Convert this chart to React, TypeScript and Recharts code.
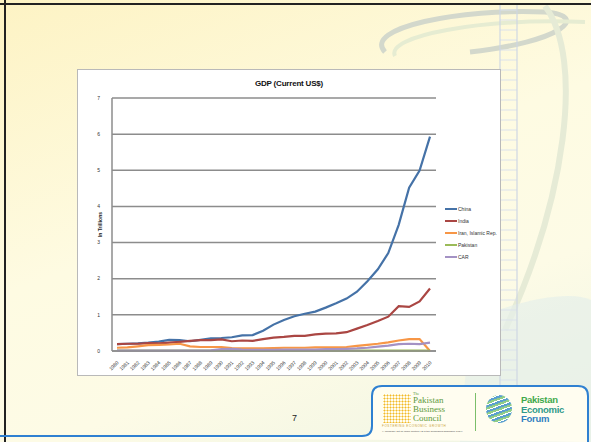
import React from 'react';
import { LineChart, Line, XAxis, YAxis, CartesianGrid } from 'recharts';

const years = [
  '1980', '1981', '1982', '1983', '1984', '1985', '1986', '1987', '1988', '1989',
  '1990', '1991', '1992', '1993', '1994', '1995', '1996', '1997', '1998', '1999',
  '2000', '2001', '2002', '2003', '2004', '2005', '2006', '2007', '2008', '2009', '2010',
];

// GDP in trillions of current US$
const china = [
  0.19, 0.2, 0.21, 0.23, 0.26, 0.31, 0.3, 0.27, 0.31, 0.35,
  0.36, 0.38, 0.43, 0.44, 0.56, 0.73, 0.86, 0.96, 1.03, 1.09,
  1.2, 1.32, 1.45, 1.64, 1.93, 2.26, 2.71, 3.49, 4.52, 4.99, 5.93,
];
const india = [
  0.19, 0.2, 0.2, 0.22, 0.21, 0.23, 0.25, 0.28, 0.3, 0.3,
  0.32, 0.27, 0.29, 0.28, 0.33, 0.37, 0.39, 0.42, 0.42, 0.46,
  0.48, 0.49, 0.52, 0.62, 0.72, 0.83, 0.95, 1.24, 1.22, 1.37, 1.73,
];
const iran = [
  0.09, 0.1, 0.13, 0.16, 0.17, 0.18, 0.2, 0.13, 0.11, 0.11,
  0.11, 0.08, 0.07, 0.07, 0.07, 0.08, 0.09, 0.09, 0.09, 0.1,
  0.1, 0.1, 0.11, 0.14, 0.17, 0.2, 0.24, 0.29, 0.33, 0.33, 0,
];
const pakistan = [
  0.01, 0.01, 0.01, 0.01, 0.01, 0.01, 0.01, 0.01, 0.01, 0.01,
  0.01, 0.01, 0.01, 0.01, 0.01, 0.01, 0.01, 0.01, 0.01, 0.01,
  0.01, 0.01, 0.01, 0.01, 0.01, 0.01, 0.01, 0.01, 0.01, 0.01, 0.01,
];
const car = [
  0.01, 0.01, 0.01, 0.01, 0.01, 0.01, 0.01, 0.01, 0.01, 0.02,
  0.05, 0.06, 0.04, 0.03, 0.03, 0.03, 0.04, 0.04, 0.04, 0.04,
  0.05, 0.05, 0.06, 0.07, 0.09, 0.12, 0.15, 0.19, 0.2, 0.19, 0.23,
];
const yTicks = [0, 1, 2, 3, 4, 5, 6, 7];

const series = [
  { key: 'china', name: 'China', color: '#4572a7' },
  { key: 'india', name: 'India', color: '#aa4643' },
  { key: 'iran', name: 'Iran, Islamic Rep.', color: '#f79646' },
  { key: 'pakistan', name: 'Pakistan', color: '#9bbb59' },
  { key: 'car', name: 'CAR', color: '#a492c4' },
];

const data = years.map((year, i) => ({
  year,
  china: china[i],
  india: india[i],
  iran: iran[i],
  pakistan: pakistan[i],
  car: car[i],
}));

const font = '"Liberation Sans", Arial, sans-serif';

const YearTick = (props: any) => {
  const { x, y, payload } = props;
  return (
    <text
      x={x + 2}
      y={y + 4}
      fontSize={5}
      fill="#333"
      fontFamily={font}
      textAnchor="end"
      transform={`rotate(-45 ${x + 2} ${y + 4})`}
    >
      {payload.value}
    </text>
  );
};

const ladder = [0, 1, 2, 3, 4, 5, 6, 7, 8, 9, 10, 11, 12, 13, 14, 15, 16, 17, 18, 19, 20, 21, 22, 23, 24, 25, 26, 27, 28, 29, 30, 31, 32, 33, 34, 35, 36, 37];

export default function App() {
  return (
    <div
      style={{
        position: 'absolute',
        left: 0,
        top: 0,
        width: 591,
        height: 442,
        overflow: 'hidden',
        background: 'linear-gradient(160deg, #fdf3c4 0%, #fefbe2 45%, #fdfbe6 70%, #eef4e4 100%)',
        fontFamily: font,
      }}
    >
      <svg width={591} height={442} style={{ position: 'absolute', left: 0, top: 0 }}>
        <path d="M385 52 C362 28 460 8 545 12 C592 16 560 42 470 52" fill="none" stroke="#d3d8cc" strokeWidth={5} />
        <path d="M395 56 C385 36 480 18 585 22" fill="none" stroke="#e6ecd2" strokeWidth={4} />
        <path d="M545 6 C585 60 565 200 505 330" fill="none" stroke="#e6ebd6" strokeWidth={6} />
        <path d="M470 320 C520 300 570 290 591 300 L591 442 L460 442 Z" fill="#e6f0ea" opacity={0.7} />
        {ladder.map((i) => (
          <line key={i} x1={500} x2={517} y1={10 + i * 10} y2={10 + i * 10} stroke="#dbe2ec" strokeWidth={1} />
        ))}
        <line x1={500} x2={500} y1={5} y2={390} stroke="#cfd7e3" strokeWidth={1.2} />
        <line x1={517} x2={517} y1={5} y2={390} stroke="#cfd7e3" strokeWidth={1.2} />
        <line x1={0} x2={591} y1={4} y2={4} stroke="#222" strokeWidth={2} />
        <line x1={5} x2={5} y1={0} y2={442} stroke="#222" strokeWidth={2} />
        <path
          d="M0 436 H362 Q372 436 372 426 V396 Q372 386 382 386 H578 Q588 386 588 396 V442"
          fill="#fffdf0"
          stroke="#2f80d1"
          strokeWidth={2}
        />
      </svg>

      <div
        style={{
          position: 'absolute',
          left: 78,
          top: 70,
          width: 422,
          height: 305,
          background: '#fff',
          boxShadow: '0 0 0 1px #b9b9b9',
        }}
      >
        <div
          style={{
            position: 'absolute',
            top: 9,
            width: 422,
            textAlign: 'center',
            fontSize: 8,
            fontWeight: 'bold',
            color: '#111',
            letterSpacing: -0.2,
          }}
        >
          GDP (Current US$)
        </div>
        <LineChart width={422} height={305} data={data} margin={{ top: 28, right: 64, bottom: 0, left: 0 }}>
          <CartesianGrid vertical={false} stroke="#8c8c8c" strokeWidth={1.5} />
          <XAxis
            dataKey="year"
            interval={0}
            tick={<YearTick />}
            tickLine={false}
            axisLine={{ stroke: '#8c8c8c', strokeWidth: 1.5 }}
            height={24}
            padding={{ left: 5, right: 6 }}
          />
          <YAxis
            domain={[0, 7]}
            ticks={yTicks}
            width={34}
            tickLine={false}
            tickMargin={6}
            axisLine={{ stroke: '#8c8c8c', strokeWidth: 1.5 }}
            tick={{ fontSize: 5, fill: '#333', fontFamily: font }}
            label={{
              value: 'In Trillions',
              angle: -90,
              position: 'insideLeft',
              offset: 22,
              style: { fontSize: 5, fontWeight: 'bold', fill: '#222', fontFamily: font, textAnchor: 'middle' },
            }}
          />
          {series.map((s) => (
            <Line
              key={s.key}
              type="linear"
              dataKey={s.key}
              name={s.name}
              stroke={s.color}
              strokeWidth={2.2}
              dot={false}
              isAnimationActive={false}
            />
          ))}
        </LineChart>
        <div style={{ position: 'absolute', left: 367, top: 133, fontSize: 5, color: '#333' }}>
          {series.map((s) => (
            <div key={s.key} style={{ display: 'flex', alignItems: 'center', height: 12 }}>
              <span style={{ display: 'inline-block', width: 12, height: 2, background: s.color, marginRight: 1 }} />
              <span>{s.name}</span>
            </div>
          ))}
        </div>
      </div>

      <div style={{ position: 'absolute', left: 292, top: 413, fontSize: 9, color: '#222' }}>7</div>

      {/* Pakistan Business Council */}
      <div
        style={{
          position: 'absolute',
          left: 383,
          top: 394,
          width: 28,
          height: 29,
          backgroundImage: 'radial-gradient(circle, #f2b928 0.9px, transparent 1.1px)',
          backgroundSize: '3px 3px',
        }}
      />
      <div
        style={{
          position: 'absolute',
          left: 413,
          top: 391,
          fontFamily: '"Liberation Serif", serif',
          color: '#5e9a3c',
          lineHeight: '9px',
          fontSize: 9,
        }}
      >
        <div style={{ fontSize: 4, lineHeight: '5px' }}>The</div>
        <div>Pakistan</div>
        <div>Business</div>
        <div>Council</div>
      </div>
      <div style={{ position: 'absolute', left: 382, top: 425, fontSize: 3, lineHeight: '3px', color: '#c9a23a', letterSpacing: 0.6 }}>
        FOSTERING ECONOMIC GROWTH
      </div>
      <div style={{ position: 'absolute', left: 382, top: 430, fontSize: 2.5, lineHeight: '3px', color: '#444' }}>
        (A Company set up under Section 42 of the Companies Ordinance 1984)
      </div>
      <div style={{ position: 'absolute', left: 475, top: 393, width: 1, height: 38, background: '#7bbf6a' }} />

      {/* Pakistan Economic Forum */}
      <div
        style={{
          position: 'absolute',
          left: 486,
          top: 395,
          width: 26,
          height: 28,
          borderRadius: '50%',
          background: 'repeating-linear-gradient(160deg, #3d8fc9 0px, #3d8fc9 2px, #7cc576 2px, #7cc576 4px, #fff 4px, #fff 5px)',
          opacity: 0.85,
        }}
      />
      <div
        style={{
          position: 'absolute',
          left: 521,
          top: 395,
          fontSize: 9.5,
          fontWeight: 'bold',
          lineHeight: '9.5px',
          letterSpacing: -0.3,
        }}
      >
        <div style={{ color: '#3ea94b' }}>Pakistan</div>
        <div style={{ color: '#2f9a8a' }}>Economic</div>
        <div style={{ color: '#2f7fc0' }}>Forum</div>
      </div>
    </div>
  );
}
